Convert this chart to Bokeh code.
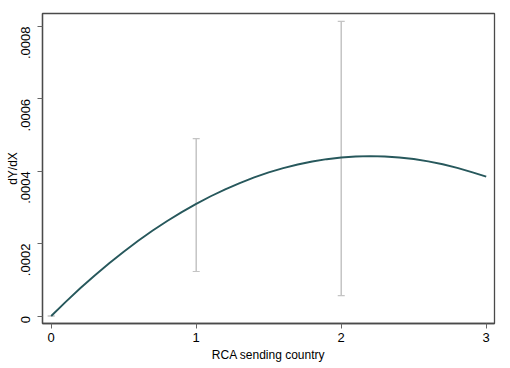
from bokeh.plotting import figure
from bokeh.models import ColumnDataSource, Whisker, TeeHead, FixedTicker, CustomJSTickFormatter, Range1d
from bokeh.embed import file_html
from bokeh.resources import INLINE

# Curve: marginal effect dY/dX over RCA sending country
curve_x = [0.0, 0.1, 0.2, 0.3, 0.4, 0.5, 0.6, 0.7, 0.8, 0.9, 1.0, 1.1, 1.2, 1.3, 1.4, 1.5,
           1.6, 1.7, 1.8, 1.9, 2.0, 2.1, 2.2, 2.3, 2.4, 2.5, 2.6, 2.7, 2.8, 2.9, 3.0]
curve_y = [0.0, 0.0000392, 0.0000766, 0.0001121, 0.0001458, 0.0001778, 0.0002078, 0.0002361,
           0.0002626, 0.0002872, 0.000310, 0.000331, 0.0003502, 0.0003675, 0.000383, 0.0003968,
           0.0004086, 0.0004187, 0.000427, 0.0004334, 0.000438, 0.0004408, 0.0004418, 0.0004409,
           0.0004382, 0.0004338, 0.0004274, 0.0004193, 0.0004094, 0.0003976, 0.000385]

# Confidence intervals
ci_x = [0, 1, 2]
ci_lower = [0.0, 0.000123, 0.0000566]
ci_upper = [0.0, 0.00049, 0.000814]

x_ticks = [0, 1, 2, 3]
y_ticks = [0, 0.0002, 0.0004, 0.0006, 0.0008]
y_tick_labels = ["0", ".0002", ".0004", ".0006", ".0008"]

FONT = "Liberation Sans"

p = figure(width=510, height=368, output_backend="svg", toolbar_location=None,
           x_range=Range1d(-0.06, 3.057), y_range=Range1d(-0.0000207, 0.000836),
           min_border_left=42, min_border_right=16, min_border_top=13, min_border_bottom=45)
p.background_fill_color = "white"
p.border_fill_color = "white"
p.outline_line_color = "#4a4a4a"
p.outline_line_width = 1.3
p.xgrid.visible = False
p.ygrid.visible = False

src = ColumnDataSource(dict(x=ci_x, lo=ci_lower, hi=ci_upper))
w = Whisker(source=src, base="x", lower="lo", upper="hi",
            line_color="#c4c4c4", line_width=1.5,
            upper_head=TeeHead(size=7, line_color="#c4c4c4", line_width=1.2),
            lower_head=TeeHead(size=7, line_color="#c4c4c4", line_width=1.2))
p.add_layout(w)

p.line(curve_x, curve_y, line_color="#27585c", line_width=1.9)

p.xaxis.ticker = FixedTicker(ticks=x_ticks)
p.yaxis.ticker = FixedTicker(ticks=y_ticks)
p.yaxis.formatter = CustomJSTickFormatter(args=dict(yt=y_ticks, yl=y_tick_labels), code="""
    for (let i = 0; i < yt.length; i++) { if (Math.abs(tick - yt[i]) < 1e-9) return yl[i]; }
    return '';
""")
p.yaxis.major_label_orientation = 1.5708

for ax in (p.xaxis, p.yaxis):
    ax.axis_line_color = "#4a4a4a"
    ax.axis_line_width = 1.3
    ax.major_tick_line_color = "#666666"
    ax.major_tick_out = 5
    ax.major_tick_in = 0
    ax.minor_tick_line_color = None
    ax.major_label_text_font = FONT
    ax.major_label_text_font_size = "13px"
    ax.major_label_text_color = "black"
    ax.axis_label_text_font = FONT
    ax.axis_label_text_font_size = "12px"
    ax.axis_label_text_font_style = "normal"
    ax.axis_label_text_color = "black"

p.xaxis.axis_label = "RCA sending country"
p.yaxis.axis_label = "dY/dX"
p.xaxis.major_label_standoff = 4
p.xaxis.axis_label_standoff = 3
p.yaxis.major_label_standoff = 12
p.yaxis.axis_label_standoff = -6

open("out.html", "w").write(file_html(p, INLINE))
